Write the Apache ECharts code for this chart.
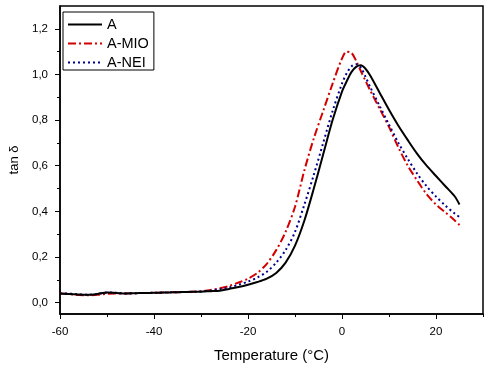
<!DOCTYPE html>
<html><head><meta charset="utf-8">
<script src="https://cdn.jsdelivr.net/npm/echarts@6/dist/echarts.min.js"></script>
<style>html,body{margin:0;padding:0;background:#fff}#c{width:487px;height:368px}</style>
</head><body><div id="c"></div>
<script>
const temps = [-60,-58,-56,-54,-52,-50,-48,-46,-44,-42,-40,-38,-36,-34,-32,-30,-28,-26,-24,-22,-20,-18,-16,-14,-12,-10,-8,-6,-4,-2,0,1,2,3,4,5,6,8,10,12,14,16,18,20,22,24,25];
const tanA = [0.040,0.038,0.035,0.034,0.038,0.044,0.042,0.040,0.041,0.042,0.043,0.044,0.045,0.046,0.047,0.048,0.050,0.052,0.060,0.068,0.078,0.090,0.105,0.130,0.175,0.250,0.360,0.500,0.650,0.800,0.925,0.970,1.010,1.033,1.040,1.025,0.995,0.920,0.845,0.775,0.712,0.652,0.600,0.555,0.510,0.465,0.430];
const tanMIO = [0.040,0.037,0.033,0.032,0.034,0.038,0.040,0.040,0.041,0.042,0.043,0.044,0.045,0.046,0.047,0.050,0.055,0.063,0.073,0.088,0.105,0.130,0.170,0.230,0.310,0.420,0.580,0.720,0.840,0.960,1.070,1.100,1.095,1.060,1.015,0.972,0.930,0.850,0.770,0.680,0.600,0.535,0.475,0.430,0.395,0.360,0.340];
const tanNEI = [0.040,0.039,0.036,0.034,0.038,0.044,0.043,0.040,0.041,0.042,0.043,0.044,0.045,0.046,0.047,0.049,0.052,0.058,0.066,0.078,0.092,0.110,0.135,0.175,0.230,0.310,0.430,0.560,0.700,0.840,0.960,1.005,1.035,1.045,1.030,0.990,0.945,0.862,0.780,0.700,0.630,0.565,0.510,0.465,0.425,0.390,0.375];
const xTicks = [-60,-40,-20,0,20];
const xMinor = [-50,-30,-10,10,30];
const yTicks = [0,0.2,0.4,0.6,0.8,1.0,1.2];
const yMinor = [0.1,0.3,0.5,0.7,0.9,1.1];
const seriesNames = ['A','A-MIO','A-NEI'];

const FONT = 'Liberation Sans, Arial, sans-serif';
const pairs = arr => temps.map((t,i)=>[t,arr[i]]);
const chart = echarts.init(document.getElementById('c'));
const baseX = {type:'value',min:-60,max:30,position:'bottom',splitLine:{show:false}};
const baseY = {type:'value',min:-0.05,max:1.3,position:'left',splitLine:{show:false}};
chart.setOption({
  animation:false,
  grid:{left:57,right:4,top:6,bottom:54,show:true,borderColor:'#000',borderWidth:1.5,backgroundColor:'transparent'},
  legend:{
    orient:'vertical',left:63,top:12,
    data:seriesNames,
    borderColor:'#000',borderWidth:1,padding:[5,5,0,4],
    itemWidth:34,itemHeight:12,itemGap:4,
    itemStyle:{opacity:0,borderWidth:0},
    textStyle:{fontFamily:FONT,fontSize:14.5,lineHeight:15,color:'#000'}
  },
  xAxis:[
    Object.assign({},baseX,{
      name:'Temperature (°C)',nameLocation:'middle',nameGap:34,
      nameTextStyle:{fontFamily:FONT,fontSize:15,color:'#000'},
      axisLine:{show:true,onZero:false,lineStyle:{color:'#000',width:1.5}},
      axisTick:{show:true,length:5,lineStyle:{color:'#000',width:1},customValues:xTicks},
      axisLabel:{show:true,customValues:xTicks,margin:12,fontFamily:FONT,fontSize:11.5,color:'#000'}
    }),
    Object.assign({},baseX,{
      axisLine:{show:false,onZero:false},
      axisTick:{show:true,length:3,lineStyle:{color:'#000',width:1},customValues:xMinor},
      axisLabel:{show:false}
    })
  ],
  yAxis:[
    Object.assign({},baseY,{
      name:'tan δ',nameLocation:'middle',nameGap:39,
      nameTextStyle:{fontFamily:FONT,fontSize:13,color:'#000'},
      axisLine:{show:true,onZero:false,lineStyle:{color:'#000',width:1.5}},
      axisTick:{show:true,length:5,lineStyle:{color:'#000',width:1},customValues:yTicks},
      axisLabel:{show:true,customValues:yTicks,margin:12,fontFamily:FONT,fontSize:11.5,color:'#000',
        formatter:v=>v.toFixed(1).replace('.',',')}
    }),
    Object.assign({},baseY,{
      axisLine:{show:false,onZero:false},
      axisTick:{show:true,length:3,lineStyle:{color:'#000',width:1},customValues:yMinor},
      axisLabel:{show:false}
    })
  ],
  series:[
    {name:seriesNames[0],type:'line',data:pairs(tanA),smooth:0.3,showSymbol:false,symbol:'none',
     lineStyle:{color:'#000',width:2},itemStyle:{color:'#000'},z:3},
    {name:seriesNames[1],type:'line',data:pairs(tanMIO),smooth:0.3,showSymbol:false,symbol:'none',
     lineStyle:{color:'#d40000',width:2,type:[8,3,2,3]},itemStyle:{color:'#d40000'},z:2},
    {name:seriesNames[2],type:'line',data:pairs(tanNEI),smooth:0.3,showSymbol:false,symbol:'none',
     lineStyle:{color:'#00008b',width:2,type:[2,3]},itemStyle:{color:'#00008b'},z:2}
  ]
});
</script></body></html>
